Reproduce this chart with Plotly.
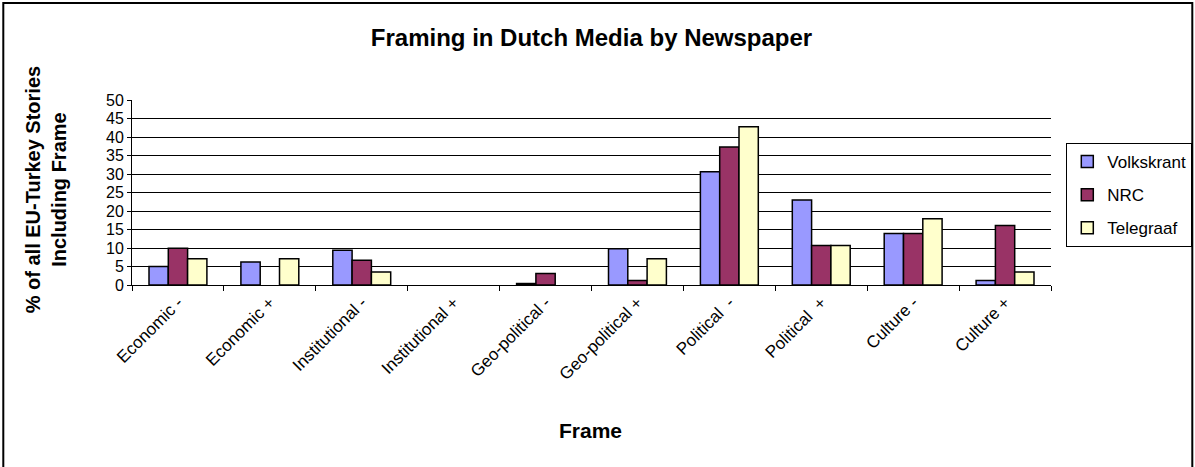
import plotly.graph_objects as go

categories = ["Economic -", "Economic +", "Institutional -", "Institutional +",
              "Geo-political -", "Geo-political +", "Political  -", "Political  +",
              "Culture -", "Culture +"]
volkskrant = [5.0, 6.2, 9.4, None, 0.4, 9.8, 30.6, 23.0, 13.9, 1.2]
nrc = [9.9, None, 6.7, None, 3.1, 1.2, 37.3, 10.7, 13.9, 16.1]
telegraaf = [7.1, 7.1, 3.5, None, None, 7.1, 42.8, 10.7, 17.9, 3.5]
series_names = ["Volkskrant", "NRC", "Telegraaf"]
series_colors = ["#9999FF", "#993366", "#FFFFCC"]
y_ticks = [0, 5, 10, 15, 20, 25, 30, 35, 40, 45, 50]

W, H = 1195, 467
L, R, T, B = 131.7, 1050.7, 100, 285

fig = go.Figure()
for name, vals, col in zip(series_names, [volkskrant, nrc, telegraaf], series_colors):
    fig.add_trace(go.Bar(
        x=categories, y=vals, name=name, legendgroup=name,
        marker=dict(color=col, line=dict(color="black", width=1.5)),
    ))

font_fam = "Liberation Sans, Arial, sans-serif"
pw, ph = R - L, B - T
def px(x):
    return (x - L) / pw
def py(y):
    return (B - y) / ph

fig.update_layout(
    width=W, height=H,
    margin=dict(l=L, r=W - R, t=T, b=H - B, autoexpand=False),
    paper_bgcolor="white", plot_bgcolor="white",
    font=dict(family=font_fam, color="black"),
    barmode="group", bargap=0.37, bargroupgap=0,
    title=dict(text="<b>Framing in Dutch Media by Newspaper</b>",
               x=0.5, xanchor="center", xref="paper",
               y=1 - 38 / H, yanchor="middle", yref="container",
               font=dict(size=24, family=font_fam, color="black")),
    xaxis=dict(
        type="category", tickangle=-45, tickfont=dict(size=17),
        showline=True, linecolor="black", linewidth=1,
        ticks="outside", ticklen=5, tickcolor="black",
        tickson="boundaries", showgrid=False,
    ),
    yaxis=dict(
        range=[0, 50], tickvals=y_ticks, ticktext=[str(v) for v in y_ticks],
        tickfont=dict(size=16), showline=True, linecolor="black", linewidth=1,
        ticks="outside", ticklen=4, tickcolor="black",
        showgrid=True, gridcolor="black", gridwidth=1, zeroline=False,
    ),
    legend=dict(
        x=px(1066), y=py(143), xanchor="left", yanchor="top",
        bordercolor="black", borderwidth=1, bgcolor="white",
        font=dict(size=17), tracegroupgap=8, itemwidth=30,
    ),
    showlegend=True,
    annotations=[
        dict(text="<b>Frame</b>", xref="paper", yref="paper",
             x=px(590), y=py(430), xanchor="center", yanchor="middle",
             showarrow=False, font=dict(size=21)),
        dict(text="<b>% of all EU-Turkey Stories<br>Including Frame</b>",
             xref="paper", yref="paper", x=px(46), y=py(190),
             xanchor="center", yanchor="middle", textangle=-90,
             showarrow=False, font=dict(size=20)),
    ],
    shapes=[dict(type="rect", xref="paper", yref="paper",
                 x0=px(3), x1=px(1192), y0=py(469), y1=py(3),
                 line=dict(color="black", width=2), fillcolor="rgba(0,0,0,0)",
                 layer="below")],
)

fig.write_html("out.html", config={"displayModeBar": False},
               post_script="document.body.style.margin='0';")
